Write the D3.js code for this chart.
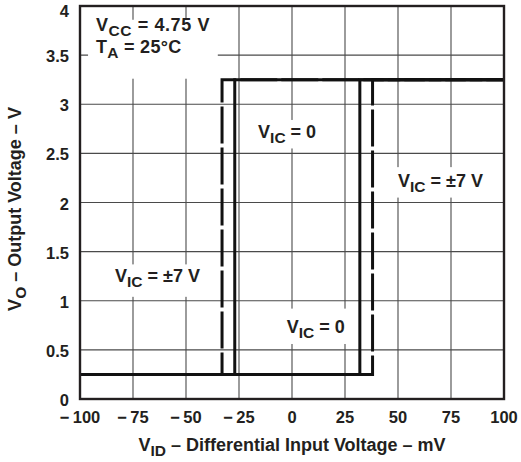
<!DOCTYPE html>
<html><head><meta charset="utf-8">
<script src="https://cdn.jsdelivr.net/npm/d3@7"></script>
<style>
body{margin:0;background:#fff}
text{font-family:"Liberation Sans",Arial,sans-serif;font-weight:bold;fill:#231f20;white-space:pre}
</style>
</head><body><svg id="c" width="521" height="462"></svg>
<script>
// ---- data ----
const xTicks=[-100,-75,-50,-25,0,25,50,75,100];
const yTicks=[0,0.5,1,1.5,2,2.5,3,3.5,4];
// V_IC = 0 (solid) transfer curves
const vic0RiseX=[-100,32,32,100], vic0RiseY=[0.25,0.25,3.25,3.25];
const vic0FallX=[-100,-27,-27,100], vic0FallY=[0.25,0.25,3.25,3.25];
// V_IC = ±7 V (dashed) transfer curves
const vic7RiseX=[-100,38,38,100], vic7RiseY=[0.25,0.25,3.25,3.25];
const vic7FallX=[-100,-33,-33,100], vic7FallY=[0.25,0.25,3.25,3.25];
// annotations [x mV, y V, main, sub, rest, letterSpacing]
const notes=[
  [-92.5,3.75,"V","CC"," = 4.75 V",0.6],
  [-92.5,3.52,"T","A"," = 25\u00B0C",0.3],
  [-16,2.66,"V","IC"," = 0",0],
  [50,2.16,"V","IC"," = \u00B17 V",0],
  [-83.5,1.19,"V","IC"," = \u00B17 V",0],
  [-2.5,0.67,"V","IC"," = 0",0]
];
// white boxes behind annotations [x0,x1 mV ; y0,y1 V]
const boxes=[
  [-96.2,-35,3.26,3.86],
  [-20,17,2.55,2.84],
  [45,95,2.05,2.36],
  [-85,-37,1.04,1.37],
  [-6,28,0.56,0.92]
];

const svg=d3.select("#c");
const L=80,R=504,T=6,B=399;
const x=d3.scaleLinear().domain([-100,100]).range([L,R]);
const y=d3.scaleLinear().domain([0,4]).range([B,T]);

// grid
const g=svg.append("g");
g.selectAll(".vx").data(xTicks.slice(1,-1)).join("line")
 .attr("x1",d=>x(d)).attr("x2",d=>x(d)).attr("y1",T).attr("y2",B)
 .attr("stroke","#4a4a4a").attr("stroke-width",1.1);
g.selectAll(".hy").data(yTicks.slice(1,-1)).join("line")
 .attr("y1",d=>y(d)).attr("y2",d=>y(d)).attr("x1",L).attr("x2",R)
 .attr("stroke","#4a4a4a").attr("stroke-width",1.1);

// white boxes
svg.selectAll(".bx").data(boxes).join("rect")
 .attr("x",d=>x(d[0])).attr("width",d=>x(d[1])-x(d[0]))
 .attr("y",d=>y(d[3])).attr("height",d=>y(d[2])-y(d[3]))
 .attr("fill","#fff");

// curves
const line=d3.line().x(d=>x(d[0])).y(d=>y(d[1])).curve(d3.curveLinear);
const pts=(xs,ys)=>xs.map((v,i)=>[v,ys[i]]);
const period=41, dash=37;
function dashed(xs,ys,phase){
  const L1=x(xs[1])-x(xs[0]);
  const off=(((phase-L1)%period)+period)%period;
  svg.append("path").attr("d",line(pts(xs,ys))).attr("fill","none")
   .attr("stroke","#111").attr("stroke-width",3)
   .attr("stroke-dasharray",dash+","+(period-dash)).attr("stroke-dashoffset",off)
   .attr("stroke-linejoin","miter");
}
dashed(vic7FallX,vic7FallY,15);
dashed(vic7RiseX,vic7RiseY,18);
[[vic0RiseX,vic0RiseY],[vic0FallX,vic0FallY]].forEach(([xs,ys])=>{
  svg.append("path").attr("d",line(pts(xs,ys))).attr("fill","none")
   .attr("stroke","#111").attr("stroke-width",3).attr("stroke-linejoin","miter");
});

// border
svg.append("rect").attr("x",L).attr("y",T).attr("width",R-L).attr("height",B-T)
 .attr("fill","none").attr("stroke","#231f20").attr("stroke-width",2.4);

// tick labels
svg.selectAll(".xt").data(xTicks).join("text")
 .attr("x",d=>x(d)).attr("y",423).attr("text-anchor","middle")
 .attr("font-size",16.5).text(d=>d<0?"\u2212\u2009"+Math.abs(d):String(d));
svg.selectAll(".yt").data(yTicks).join("text")
 .attr("x",69).attr("y",d=>Math.max(y(d)+7,17)).attr("text-anchor","end")
 .attr("font-size",16.5).text(d=>d3.format("")(d));

// annotations
function rich(sel,main,sub,rest){
  sel.append("tspan").text(main);
  sel.append("tspan").attr("font-size",15.5).attr("dy",5).text(sub);
  sel.append("tspan").attr("dy",-5).text(rest);
}
notes.forEach(n=>{
  const t=svg.append("text").attr("x",x(n[0])).attr("y",y(n[1])).attr("font-size",18)
    .attr("letter-spacing",n[5]);
  rich(t,n[2],n[3],n[4]);
});

// axis titles
const xt=svg.append("text").attr("x",(L+R)/2).attr("y",451).attr("text-anchor","middle").attr("font-size",18);
rich(xt,"V","ID"," \u2013 Differential Input Voltage \u2013 mV");
const yt=svg.append("text").attr("transform","translate(21,209) rotate(-90)").attr("text-anchor","middle").attr("font-size",18);
rich(yt,"V","O"," \u2013 Output Voltage \u2013 V");
</script></body></html>
